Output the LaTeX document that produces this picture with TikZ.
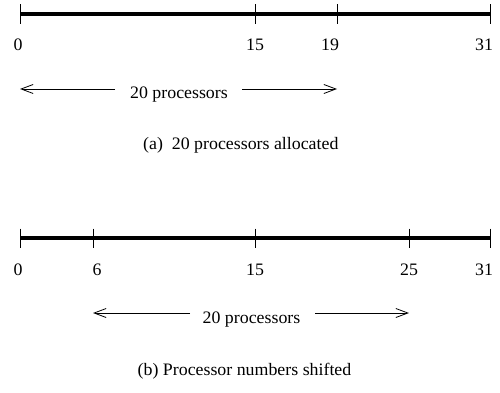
\documentclass[tikz,border=0pt]{standalone}
\usepackage{fontspec}
\setmainfont{Liberation Serif}[FakeStretch=1.02]
\usetikzlibrary{arrows.meta}
\begin{document}
\begin{tikzpicture}[x=1pt,y=-1pt,
  axisline/.style={line width=3.6pt},
  tickline/.style={line width=0.9pt},
  lbl/.style={anchor=base,inner sep=0pt,font=\fontsize{17.5}{19}\selectfont},
  captext/.style={anchor=base west,inner sep=0pt,font=\fontsize{17.5}{19}\selectfont},
  dim/.style={line width=0.8pt,-{Straight Barb[length=12pt,width=9pt,line width=0.8pt]}}]
\useasboundingbox (0,0) rectangle (500,393);
% ---- (a) ----
\coordinate (a0) at (20,14);
\coordinate (a15) at (255,14);
\coordinate (a19) at (337,14);
\coordinate (a31) at (490,14);
\draw[axisline] (a0) -- (a31);
\foreach \p in {a0,a15,a19,a31}
  \draw[tickline] ([yshift=9.5pt]\p) -- ([yshift=-10pt]\p);
\node[lbl] (la0) at (18,50.7) {0};
\node[lbl] (la15) at (255,50.7) {15};
\node[lbl] (la19) at (330,50.7) {19};
\node[lbl] (la31) at (484,50.7) {31};
\node[lbl] (ta) at (179,98.3) {20 processors};
\coordinate (ta1) at (115,89);
\coordinate (ta2) at (242,89);
\coordinate (tipa1) at (20,89);
\coordinate (tipa2) at (337,89);
\draw[dim] (ta1) -- (tipa1);
\draw[dim] (ta2) -- (tipa2);
\node[captext] (capa) at (143,149) {(a)\ \ 20 processors allocated};
% ---- (b) ----
\coordinate (b0) at (20,238);
\coordinate (b6) at (93,238);
\coordinate (b15) at (255,238);
\coordinate (b25) at (409,238);
\coordinate (b31) at (490,238);
\draw[axisline] (b0) -- (b31);
\foreach \p in {b0,b6,b15,b25,b31}
  \draw[tickline] ([yshift=9.5pt]\p) -- ([yshift=-10pt]\p);
\node[lbl] (lb0) at (18,275) {0};
\node[lbl] (lb6) at (97,275) {6};
\node[lbl] (lb15) at (255,275) {15};
\node[lbl] (lb25) at (409,275) {25};
\node[lbl] (lb31) at (484,275) {31};
\node[lbl] (tb) at (251.5,323) {20 processors};
\coordinate (tb1) at (190,313);
\coordinate (tb2) at (315,313);
\coordinate (tipb1) at (93,313);
\coordinate (tipb2) at (409,313);
\draw[dim] (tb1) -- (tipb1);
\draw[dim] (tb2) -- (tipb2);
\node[captext] (capb) at (137.5,375) {(b) Processor numbers shifted};
\end{tikzpicture}
\end{document}
